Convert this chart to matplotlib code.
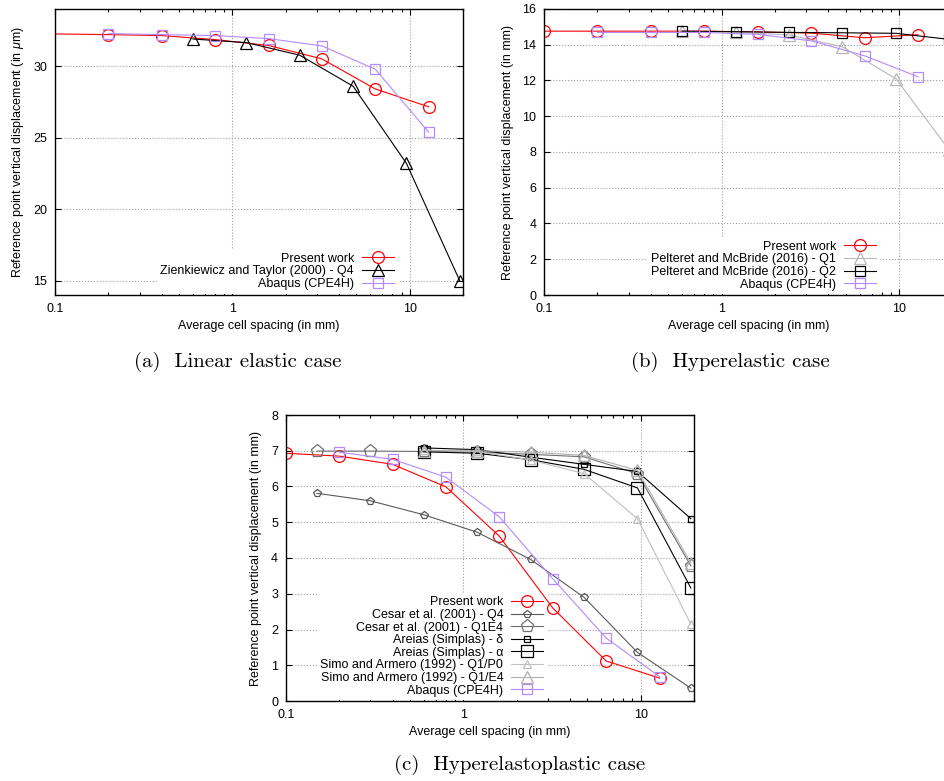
import numpy as np
import matplotlib.pyplot as plt

plt.rcParams.update({
    'font.family': 'Liberation Sans',
    'font.size': 9,
    'mathtext.fontset': 'custom',
    'mathtext.rm': 'Liberation Sans',
    'mathtext.it': 'Liberation Sans:italic',
    'axes.linewidth': 1.0,
    'lines.linewidth': 0.8,
    'lines.markeredgewidth': 0.9,
})

# (a) linear elastic case
a_present_x = [0.05, 0.2, 0.4, 0.8, 1.6, 3.2, 6.4, 12.8]
a_present = [32.30, 32.21, 32.14, 31.86, 31.45, 30.51, 28.41, 27.16]
a_zt_x = [0.6, 1.2, 2.4, 4.8, 9.6, 19.2]
a_zt = [31.90, 31.65, 30.77, 28.60, 23.20, 14.98]
a_abaqus_x = [0.2, 0.4, 0.8, 1.6, 3.2, 6.4, 12.8]
a_abaqus = [32.28, 32.21, 32.14, 31.93, 31.42, 29.79, 25.39]

# (b) hyperelastic case
b_present_x = [0.1, 0.2, 0.4, 0.8, 1.6, 3.2, 6.4, 12.8]
b_present = [14.76, 14.76, 14.76, 14.76, 14.72, 14.65, 14.39, 14.56]
b_pm_x = [0.6, 1.2, 2.4, 4.8, 9.6, 19.2]
b_pm_q1 = [14.76, 14.70, 14.55, 13.88, 12.10, 8.10]
b_pm_q2 = [14.76, 14.73, 14.69, 14.67, 14.64, 14.30]
b_abaqus_x = [0.2, 0.4, 0.8, 1.6, 3.2, 6.4, 12.8]
b_abaqus = [14.69, 14.69, 14.69, 14.58, 14.22, 13.38, 12.21]

# (c) hyperelastoplastic case
c_present_x = [0.1, 0.2, 0.4, 0.8, 1.6, 3.2, 6.4, 12.8]
c_present = [6.93, 6.85, 6.62, 5.99, 4.61, 2.60, 1.12, 0.64]
c_abaqus_x = [0.2, 0.4, 0.8, 1.6, 3.2, 6.4, 12.8]
c_abaqus = [6.96, 6.76, 6.26, 5.15, 3.42, 1.76, 0.68]
c_cesar_x = [0.15, 0.3, 0.6, 1.2, 2.4, 4.8, 9.6, 19.2]
c_cesar_q4 = [5.81, 5.60, 5.21, 4.72, 3.96, 2.90, 1.36, 0.36]
c_cesar_q1e4 = [6.99, 6.99, 6.98, 6.96, 6.90, 6.83, 6.36, 3.78]
c_ref_x = [0.6, 1.2, 2.4, 4.8, 9.6, 19.2]
c_areias_d = [7.08, 7.03, 6.82, 6.62, 6.42, 5.10]
c_areias_a = [6.97, 6.93, 6.75, 6.48, 5.96, 3.16]
c_simo_p0 = [7.02, 6.98, 6.74, 6.36, 5.10, 2.15]
c_simo_e4 = [7.00, 7.00, 6.96, 6.87, 6.45, 3.86]

RED = '#ff0000'
PURPLE = '#b38aff'

W, H = 944, 781
fig = plt.figure(figsize=(W / 100, H / 100), dpi=100)


def make_axes(left, top, width=408.3, height=286):
    # pixel box -> figure fraction
    return fig.add_axes([left / W, 1 - (top + height) / H, width / W, height / H])


def style(ax, ylim, yticks, ylabel, ylab_x):
    ax.set_xscale('log')
    ax.set_xlim(0.1, 20)
    ax.set_ylim(*ylim)
    ax.set_xticks([0.1, 1, 10])
    ax.set_xticklabels(['0.1', '1', '10'])
    ax.set_xticks([s * 10.0 ** e for e in (-1, 0, 1) for s in range(2, 10) if s * 10.0 ** e <= 20],
                  minor=True)
    ax.set_yticks(yticks)
    ax.set_yticks([], minor=True)
    ax.tick_params(which='both', direction='in', top=True, right=True, width=0.8)
    ax.tick_params(which='major', length=4.5, pad=5.5)
    ax.tick_params(which='minor', length=2.5)
    ax.grid(True, which='major', color='#a0a0a0', linestyle=':', linewidth=0.8)
    ax.set_axisbelow(True)
    ax.set_xlabel('Average cell spacing (in mm)')
    ax.set_ylabel(ylabel)
    ax.xaxis.set_label_coords(0.5, -0.088)
    ax.yaxis.set_label_coords(ylab_x, 0.5)


def legend(ax, anchor):
    leg = ax.legend(loc='lower right', bbox_to_anchor=anchor, markerfirst=False,
                    frameon=True, fancybox=False, edgecolor='none', facecolor='white',
                    framealpha=1, borderpad=0.3, borderaxespad=0, handlelength=2.55,
                    handletextpad=0.65, labelspacing=0.05, fontsize=9)
    # legend box hides the grid but not the data lines
    leg.set_zorder(1.9)


# ---- (a)
ax = make_axes(55, 9, 408)
ax.plot(a_present_x, a_present, color=RED, marker='o', ms=8.5, mfc='none', label='Present work')
ax.plot(a_zt_x, a_zt, color='black', marker='^', ms=8.5, mfc='none',
        label='Zienkiewicz and Taylor (2000) - Q4')
ax.plot(a_abaqus_x, a_abaqus, color=PURPLE, marker='s', ms=7.5, mfc='none', label='Abaqus (CPE4H)')
style(ax, (14, 34), [15, 20, 25, 30],
      r'Reference point vertical displacement (in $\mu$m)', -0.072)
legend(ax, (0.840, 0.004))

# ---- (b)
ax = make_axes(544, 9, 408.5)
ax.plot(b_present_x, b_present, color=RED, marker='o', ms=8.5, mfc='none', label='Present work')
ax.plot(b_pm_x, b_pm_q1, color='#b8b8b8', marker='^', ms=8.5, mfc='none',
        label='Pelteret and McBride (2016) - Q1')
ax.plot(b_pm_x, b_pm_q2, color='black', marker='s', ms=7.5, mfc='none',
        label='Pelteret and McBride (2016) - Q2')
ax.plot(b_abaqus_x, b_abaqus, color=PURPLE, marker='s', ms=7.5, mfc='none', label='Abaqus (CPE4H)')
style(ax, (0, 16), list(range(0, 17, 2)),
      'Reference point vertical displacement (in mm)', -0.074)
legend(ax, (0.822, 0.002))

# ---- (c)
ax = make_axes(285.7, 415, 408.3)
ax.plot(c_present_x, c_present, color=RED, marker='o', ms=8.5, mfc='none', label='Present work')
ax.plot(c_cesar_x, c_cesar_q4, color='#5a5a5a', marker='p', ms=5.5, mfc='none',
        label='Cesar et al. (2001) - Q4')
ax.plot(c_cesar_x, c_cesar_q1e4, color='#707070', marker='p', ms=9.5, mfc='none',
        label='Cesar et al. (2001) - Q1E4')
ax.plot(c_ref_x, c_areias_d, color='black', marker='s', ms=5.0, mfc='none',
        label='Areias (Simplas) - δ')
ax.plot(c_ref_x, c_areias_a, color='black', marker='s', ms=8.5, mfc='none',
        label='Areias (Simplas) - α')
ax.plot(c_ref_x, c_simo_p0, color='#c0c0c0', marker='^', ms=5.5, mfc='none',
        label='Simo and Armero (1992) - Q1/P0')
ax.plot(c_ref_x, c_simo_e4, color='#b0b0b0', marker='^', ms=9, mfc='none',
        label='Simo and Armero (1992) - Q1/E4')
ax.plot(c_abaqus_x, c_abaqus, color=PURPLE, marker='s', ms=7.5, mfc='none', label='Abaqus (CPE4H)')
style(ax, (0, 8), list(range(0, 9)),
      'Reference point vertical displacement (in mm)', -0.058)
legend(ax, (0.640, 0.002))

# captions
cap = dict(ha='center', va='center', family='cmr10', fontsize=15)
fig.text(237.5 / W, 1 - 362 / H, '(a)  Linear elastic case', **cap)
fig.text(730 / W, 1 - 362 / H, '(b)  Hyperelastic case', **cap)
fig.text(520 / W, 1 - 765 / H, '(c)  Hyperelastoplastic case', **cap)

fig.savefig('out.png', dpi=100)
